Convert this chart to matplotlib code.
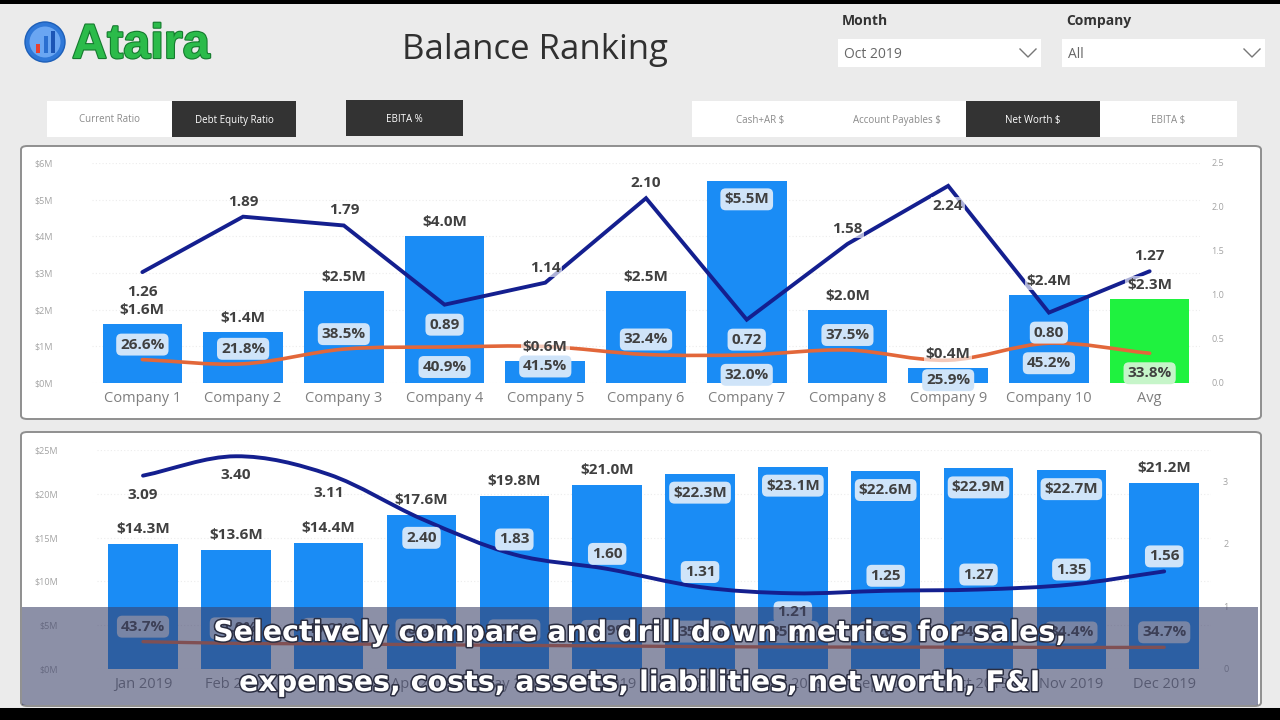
import matplotlib
matplotlib.use('Agg')
import matplotlib.pyplot as plt
from matplotlib.patches import FancyBboxPatch, Rectangle, Ellipse, PathPatch
from matplotlib.path import Path
from matplotlib.lines import Line2D
import matplotlib.patheffects as pe

# ---------------- data ----------------
companies = ['Company 1', 'Company 2', 'Company 3', 'Company 4', 'Company 5', 'Company 6',
             'Company 7', 'Company 8', 'Company 9', 'Company 10', 'Avg']
net_worth_m = [1.6, 1.4, 2.5, 4.0, 0.6, 2.5, 5.5, 2.0, 0.4, 2.4, 2.3]
debt_equity = [1.26, 1.89, 1.79, 0.89, 1.14, 2.10, 0.72, 1.58, 2.24, 0.80, 1.27]
ebita_pct = [26.6, 21.8, 38.5, 40.9, 41.5, 32.4, 32.0, 37.5, 25.9, 45.2, 33.8]

months = ['Jan 2019', 'Feb 2019', 'Mar 2019', 'Apr 2019', 'May 2019', 'Jun 2019',
          'Jul 2019', 'Aug 2019', 'Sep 2019', 'Oct 2019', 'Nov 2019', 'Dec 2019']
month_net_worth_m = [14.3, 13.6, 14.4, 17.6, 19.8, 21.0, 22.3, 23.1, 22.6, 22.9, 22.7, 21.2]
month_debt_equity = [3.09, 3.40, 3.11, 2.40, 1.83, 1.60, 1.31, 1.21, 1.25, 1.27, 1.35, 1.56]
month_ebita_pct = [43.7, 41.0, 40.2, 38.9, 37.8, 36.9, 35.8, 35.2, 35.0, 34.9, 34.4, 34.7]

top_left_ticks = [0, 1, 2, 3, 4, 5, 6]
top_right_ticks = [0.0, 0.5, 1.0, 1.5, 2.0, 2.5]
bot_left_ticks = [0, 5, 10, 15, 20, 25]
bot_right_ticks = [0, 1, 2, 3]

left_buttons = ['Current Ratio', 'Debt Equity Ratio']
mid_buttons = ['EBITA %']
right_buttons = ['Cash+AR $', 'Account Payables $', 'Net Worth $', 'EBITA $']
active_buttons = ['Debt Equity Ratio', 'EBITA %', 'Net Worth $']

subtitle = ['Selectively compare and drill down metrics for sales,',
            'expenses, costs, assets, liabilities, net worth, F&I']

# ---------------- label placement (layout / style, not data) ----------------
# direction: -1 above the point, +1 below ; style: plain / box / halo
top_bar_dir = [-1, -1, -1, -1, -1, -1, 1, -1, -1, -1, -1]
top_bar_sty = ['plain', 'plain', 'plain', 'plain', 'halo', 'plain', 'box', 'plain', 'halo', 'halo', 'halo']
top_rat_dir = [1, -1, -1, 1, -1, -1, 1, -1, 1, 1, -1]
top_rat_sty = ['plain', 'plain', 'plain', 'box', 'halo', 'plain', 'box', 'halo', 'halo', 'box', 'plain']
top_pct_dir = [-1, -1, -1, 1, 1, -1, 1, -1, 1, 1, 1]

bot_bar_dir = [-1, -1, -1, -1, -1, -1, 1, 1, 1, 1, 1, -1]
bot_rat_dir = [1, 1, 1, 1, -1, -1, -1, 1, -1, -1, -1, -1]
bot_rat_sty = ['plain', 'plain', 'plain'] + ['box'] * 9

W, H = 1280, 720
FONT = ['Open Sans', 'DejaVu Sans']
plt.rcParams['font.family'] = FONT

BLUE = '#1a8cf5'
GREEN = '#1ff23f'
NAVY = '#141f8f'
ORANGE = '#e2673a'
LBL = '#404040'


def rect_px(x0, y0, x1, y1):
    return [x0 / W, 1 - y1 / H, (x1 - x0) / W, (y1 - y0) / H]


def fx(x):
    return x / W


def fy(y):
    return 1 - y / H


fig = plt.figure(figsize=(12.8, 7.2), dpi=100)
fig.patch.set_facecolor('#ebebeb')

# black frame bands
fig.add_artist(Rectangle((0, fy(4)), 1, 4 / H, transform=fig.transFigure, fc='black', ec='none', zorder=20))
fig.add_artist(Rectangle((0, 0), 1, 12 / H, transform=fig.transFigure, fc='black', ec='none', zorder=20))


def panel(x0, y0, x1, y1):
    r = rect_px(x0, y0, x1, y1)
    p = FancyBboxPatch((r[0], r[1]), r[2], r[3], boxstyle='round,pad=0,rounding_size=0.005',
                       transform=fig.transFigure, fc='white', ec='#8f8f8f', lw=1.4, zorder=-5)
    fig.add_artist(p)


panel(21, 146, 1261, 419)
panel(21, 432, 1261, 706)

# ---------------- header ----------------
# logo icon
fig.add_artist(Ellipse((fx(45), fy(42)), 40 / W, 40 / H, transform=fig.transFigure,
                       fc='#2f78d8', ec='#1d5fb8', lw=1, zorder=2))
fig.add_artist(Ellipse((fx(45), fy(42)), 31 / W, 31 / H, transform=fig.transFigure,
                       fc='#6aa6f2', ec='none', zorder=2))
for bx, top, col in [(36, 44, '#e8402f'), (43.5, 36, '#2a6fd0'), (51, 31, '#1b55b5')]:
    fig.add_artist(Rectangle((fx(bx), fy(53)), 4 / W, (53 - top) / H, transform=fig.transFigure,
                             fc=col, ec='none', zorder=3))
fig.text(fx(72), fy(58), 'Ataira', fontsize=35, fontweight='bold', color='#2bbb4a',
         family=['Liberation Sans', 'DejaVu Sans'], ha='left', va='baseline',
         path_effects=[pe.withStroke(linewidth=1.6, foreground='#157a2e')])
fig.text(fx(535), fy(50), 'Balance Ranking', fontsize=25, color='#303030', ha='center', va='center')

# dropdowns
for lab, val, x0 in [('Month', 'Oct 2019', 838), ('Company', 'All', 1062)]:
    fig.text(fx(x0 + 4), fy(21), lab, fontsize=10, fontweight='bold', color='#333333', ha='left', va='center')
    r = rect_px(x0, 39, x0 + 203, 67)
    fig.add_artist(Rectangle((r[0], r[1]), r[2], r[3], transform=fig.transFigure, fc='white', ec='none', zorder=1))
    fig.text(fx(x0 + 6), fy(54), val, fontsize=10, color='#666666', ha='left', va='center')
    cx = x0 + 190
    fig.add_artist(Line2D([fx(cx - 8), fx(cx), fx(cx + 8)], [fy(49), fy(57), fy(49)],
                          transform=fig.transFigure, color='#777777', lw=1.0, zorder=3))


def button(label, x0, x1, y0, y1):
    active = label in active_buttons
    r = rect_px(x0, y0, x1, y1)
    fig.add_artist(Rectangle((r[0], r[1]), r[2], r[3], transform=fig.transFigure,
                             fc='#333333' if active else 'white', ec='none', zorder=1))
    fig.text(fx((x0 + x1) / 2), fy((y0 + y1) / 2 + 1), label, fontsize=7,
             color='white' if active else '#8a8a8a', ha='center', va='center')


for lab, (x0, x1) in zip(left_buttons, [(47, 172), (172, 296)]):
    button(lab, x0, x1, 101, 137)
for lab, (x0, x1) in zip(mid_buttons, [(346, 463)]):
    button(lab, x0, x1, 100, 136)
for lab, (x0, x1) in zip(right_buttons, [(692, 828), (828, 966), (966, 1100), (1100, 1237)]):
    button(lab, x0, x1, 101, 137)


# ---------------- helpers ----------------
def smooth_path(xs, ys):
    n = len(xs)
    pts = list(zip(xs, ys))
    tang = []
    for i in range(n):
        a = pts[max(i - 1, 0)]
        b = pts[min(i + 1, n - 1)]
        span = (min(i + 1, n - 1) - max(i - 1, 0))
        tang.append(((b[0] - a[0]) / span, (b[1] - a[1]) / span))
    verts = [pts[0]]
    codes = [Path.MOVETO]
    for i in range(n - 1):
        p0, p1 = pts[i], pts[i + 1]
        c1 = (p0[0] + tang[i][0] / 3, p0[1] + tang[i][1] / 3)
        c2 = (p1[0] - tang[i + 1][0] / 3, p1[1] - tang[i + 1][1] / 3)
        verts += [c1, c2, p1]
        codes += [Path.CURVE4] * 3
    return Path(verts, codes)


def put_label(axl, text, xy, xycoords, direction, style, off_up, off_down, boxfc='#cfe4f9'):
    off = -off_up if direction < 0 else off_down
    kw = dict(xy=xy, xycoords=xycoords, xytext=(0, -off), textcoords='offset pixels',
              ha='center', va='center', fontsize=11, fontweight='bold', color=LBL, zorder=10,
              annotation_clip=False)
    if style == 'box':
        kw['bbox'] = dict(boxstyle='round,pad=0.26,rounding_size=0.35', fc=boxfc, ec='none')
    elif style == 'halo':
        kw['bbox'] = dict(boxstyle='square,pad=0.12', fc='white', ec='none', alpha=0.65)
    axl.annotate(text, **kw)


def style_axes(ax, ax2, left_ticks, left_fmt, right_ticks, right_fmt, cats, lpad, rpad):
    for a in (ax, ax2):
        a.set_facecolor('none')
        for s in a.spines.values():
            s.set_visible(False)
    ax.set_yticks(left_ticks)
    ax.set_yticklabels([left_fmt(t) for t in left_ticks])
    ax2.set_yticks(right_ticks)
    ax2.set_yticklabels([right_fmt(t) for t in right_ticks])
    ax.tick_params(axis='y', length=0, pad=lpad, labelsize=6.5, labelcolor='#a3a3a3')
    ax2.tick_params(axis='y', length=0, pad=rpad, labelsize=6.5, labelcolor='#a3a3a3')
    ax.set_xticks(range(len(cats)))
    ax.set_xticklabels(cats)
    ax.tick_params(axis='x', length=0, pad=6, labelsize=10.5, labelcolor='#7f7f7f')
    ax.grid(axis='y', color='#ececec', lw=0.8, ls=(0, (1, 2)))
    ax.set_axisbelow(True)


# ---------------- top chart ----------------
ax = fig.add_axes(rect_px(92, 163, 1200, 383))
ax2 = ax.twinx()
x = list(range(len(companies)))
bar_cols = [GREEN if c == 'Avg' else BLUE for c in companies]
ax.bar(x, net_worth_m, width=0.79, color=bar_cols, zorder=2)
ax.set_xlim(-0.5, len(companies) - 0.5)
ax.set_ylim(0, 6)
ax2.set_ylim(0, 2.5)
ax2.set_xlim(-0.5, len(companies) - 0.5)
style_axes(ax, ax2, top_left_ticks, lambda t: f'${t}M', top_right_ticks, lambda t: f'{t:.1f}',
           companies, 28, 8)

ax2.add_patch(PathPatch(smooth_path(x, [p / 100 for p in ebita_pct]), fill=False, ec=ORANGE,
                        lw=2.6, capstyle='round', joinstyle='round', zorder=4))
ax2.plot(x, debt_equity, color=NAVY, lw=2.8, solid_joinstyle='miter', solid_capstyle='round', zorder=5)

for i in x:
    boxfc = '#c6f5c9' if companies[i] == 'Avg' else '#cfe4f9'
    put_label(ax2, f'${net_worth_m[i]:.1f}M', (i, net_worth_m[i]), ax.transData,
              top_bar_dir[i], top_bar_sty[i], 14, 18)
    put_label(ax2, f'{debt_equity[i]:.2f}', (i, debt_equity[i]), ax2.transData,
              top_rat_dir[i], top_rat_sty[i], 15, 20)
    put_label(ax2, f'{ebita_pct[i]:.1f}%', (i, ebita_pct[i] / 100), ax2.transData,
              top_pct_dir[i], 'box', 15, 20, boxfc=boxfc)

# ---------------- bottom chart ----------------
bx_ = fig.add_axes(rect_px(96.6, 450, 1210.6, 669))
bx2 = bx_.twinx()
xm = list(range(len(months)))
bx_.bar(xm, month_net_worth_m, width=0.75, color=BLUE, zorder=2)
bx_.set_xlim(-0.5, len(months) - 0.5)
bx_.set_ylim(0, 25)
bx2.set_ylim(0, 3.5)
bx2.set_xlim(-0.5, len(months) - 0.5)
style_axes(bx_, bx2, bot_left_ticks, lambda t: f'${t}M', bot_right_ticks, lambda t: f'{t}',
           months, 28, 9)

bx2.add_patch(PathPatch(smooth_path(xm, [p / 100 for p in month_ebita_pct]), fill=False, ec=ORANGE,
                        lw=2.4, capstyle='round', zorder=4))
bx2.add_patch(PathPatch(smooth_path(xm, month_debt_equity), fill=False, ec=NAVY,
                        lw=2.8, capstyle='round', zorder=5))

for i in xm:
    put_label(bx2, f'${month_net_worth_m[i]:.1f}M', (i, month_net_worth_m[i]), bx_.transData,
              bot_bar_dir[i], 'box' if bot_bar_dir[i] > 0 else 'plain', 15, 19)
    put_label(bx2, f'{month_debt_equity[i]:.2f}', (i, month_debt_equity[i]), bx2.transData,
              bot_rat_dir[i], bot_rat_sty[i], 15, 19)
    put_label(bx2, f'{month_ebita_pct[i]:.1f}%', (i, month_ebita_pct[i] / 100), bx2.transData,
              -1, 'box', 15, 19)

# ---------------- subtitle overlay ----------------
r = rect_px(22, 607, 1258, 705)
fig.add_artist(Rectangle((r[0], r[1]), r[2], r[3], transform=fig.transFigure,
                         fc='#3a4068', ec='none', alpha=0.58, zorder=15))
for line, yb in zip(subtitle, [641, 691]):
    fig.text(fx(640), fy(yb), line, fontsize=20.5, fontweight='bold', color='white',
             family=['DejaVu Sans'], ha='center', va='baseline', zorder=16,
             path_effects=[pe.withStroke(linewidth=2.2, foreground='#2a2d40')])

fig.savefig('out.png', dpi=100, facecolor=fig.get_facecolor())
